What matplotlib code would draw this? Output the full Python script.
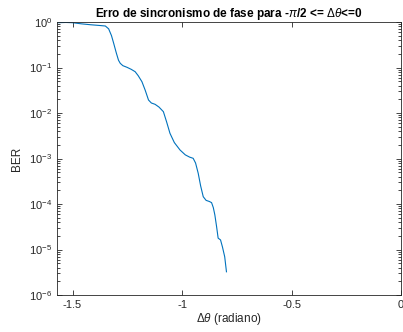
import numpy as np
import matplotlib
matplotlib.use("Agg")
import matplotlib.pyplot as plt
from matplotlib.ticker import LogLocator, FixedLocator, FuncFormatter

plt.rcParams['font.family'] = ['Liberation Sans', 'DejaVu Sans']
plt.rcParams['mathtext.fontset'] = 'custom'
plt.rcParams['mathtext.rm'] = 'Liberation Sans'
plt.rcParams['mathtext.it'] = 'Liberation Sans:italic'
plt.rcParams['mathtext.bf'] = 'Liberation Sans:bold'
plt.rcParams['axes.unicode_minus'] = False

# phase error (rad) and BER
dtheta = [-1.568, -1.530, -1.501, -1.460, -1.418, -1.380, -1.350, -1.335, -1.322,
          -1.312, -1.300, -1.290, -1.282, -1.270, -1.251, -1.232, -1.214, -1.200,
          -1.183, -1.168, -1.153, -1.140, -1.123, -1.105, -1.085, -1.070, -1.055,
          -1.035, -1.009, -0.985, -0.965, -0.949, -0.938, -0.926, -0.915, -0.903,
          -0.890, -0.875, -0.865, -0.857, -0.850, -0.842, -0.835, -0.824, -0.815,
          -0.805, -0.797]
log_ber = [-0.015, -0.010, -0.015, -0.040, -0.060, -0.075, -0.088, -0.150, -0.300,
           -0.468, -0.680, -0.840, -0.908, -0.960, -0.996, -1.040, -1.092, -1.180,
           -1.312, -1.500, -1.714, -1.780, -1.809, -1.870, -1.971, -2.200, -2.446,
           -2.650, -2.813, -2.920, -2.970, -2.996, -3.100, -3.325, -3.600, -3.840,
           -3.920, -3.945, -3.970, -4.080, -4.240, -4.500, -4.750, -4.790, -4.950,
           -5.160, -5.490]
ber = 10.0 ** np.array(log_ber)

fig = plt.figure(figsize=(4.03, 3.32), dpi=100)
ax = fig.add_axes([57/403, 37/332, 344/403, 273/332])
ax.semilogy(dtheta, ber, color='#0072BD', linewidth=0.8)

ax.set_xlim(-np.pi/2, 0)
ax.set_ylim(1e-6, 1)
ax.xaxis.set_major_locator(FixedLocator([-1.5, -1, -0.5, 0]))
ax.xaxis.set_major_formatter(FuncFormatter(lambda v, p: '%g' % v))
ax.yaxis.set_major_locator(LogLocator(base=10, numticks=10))
ax.yaxis.set_minor_locator(LogLocator(base=10, subs=np.arange(2, 10), numticks=10))
ax.yaxis.set_major_formatter(FuncFormatter(lambda v, p: r'$10^{%d}$' % round(np.log10(v))))

gray = '#262626'
for s in ax.spines.values():
    s.set_color(gray)
    s.set_linewidth(0.6)
ax.tick_params(which='both', direction='in', top=True, right=True, colors=gray,
               labelcolor=gray, labelsize=8, width=0.6)
ax.tick_params(which='major', length=3.5)
ax.tick_params(which='minor', length=2)

ax.set_xlabel(r'$\Delta\theta$ (radiano)', fontsize=8.5, color=gray, labelpad=1)
ax.set_ylabel('BER', fontsize=8.5, color=gray, labelpad=4)
ax.set_title(r'Erro de sincronismo de fase para -$\pi$/2 <= $\Delta\theta$<=0',
             fontsize=8.5, fontweight='bold', pad=3)

fig.savefig('out.png', dpi=100)
